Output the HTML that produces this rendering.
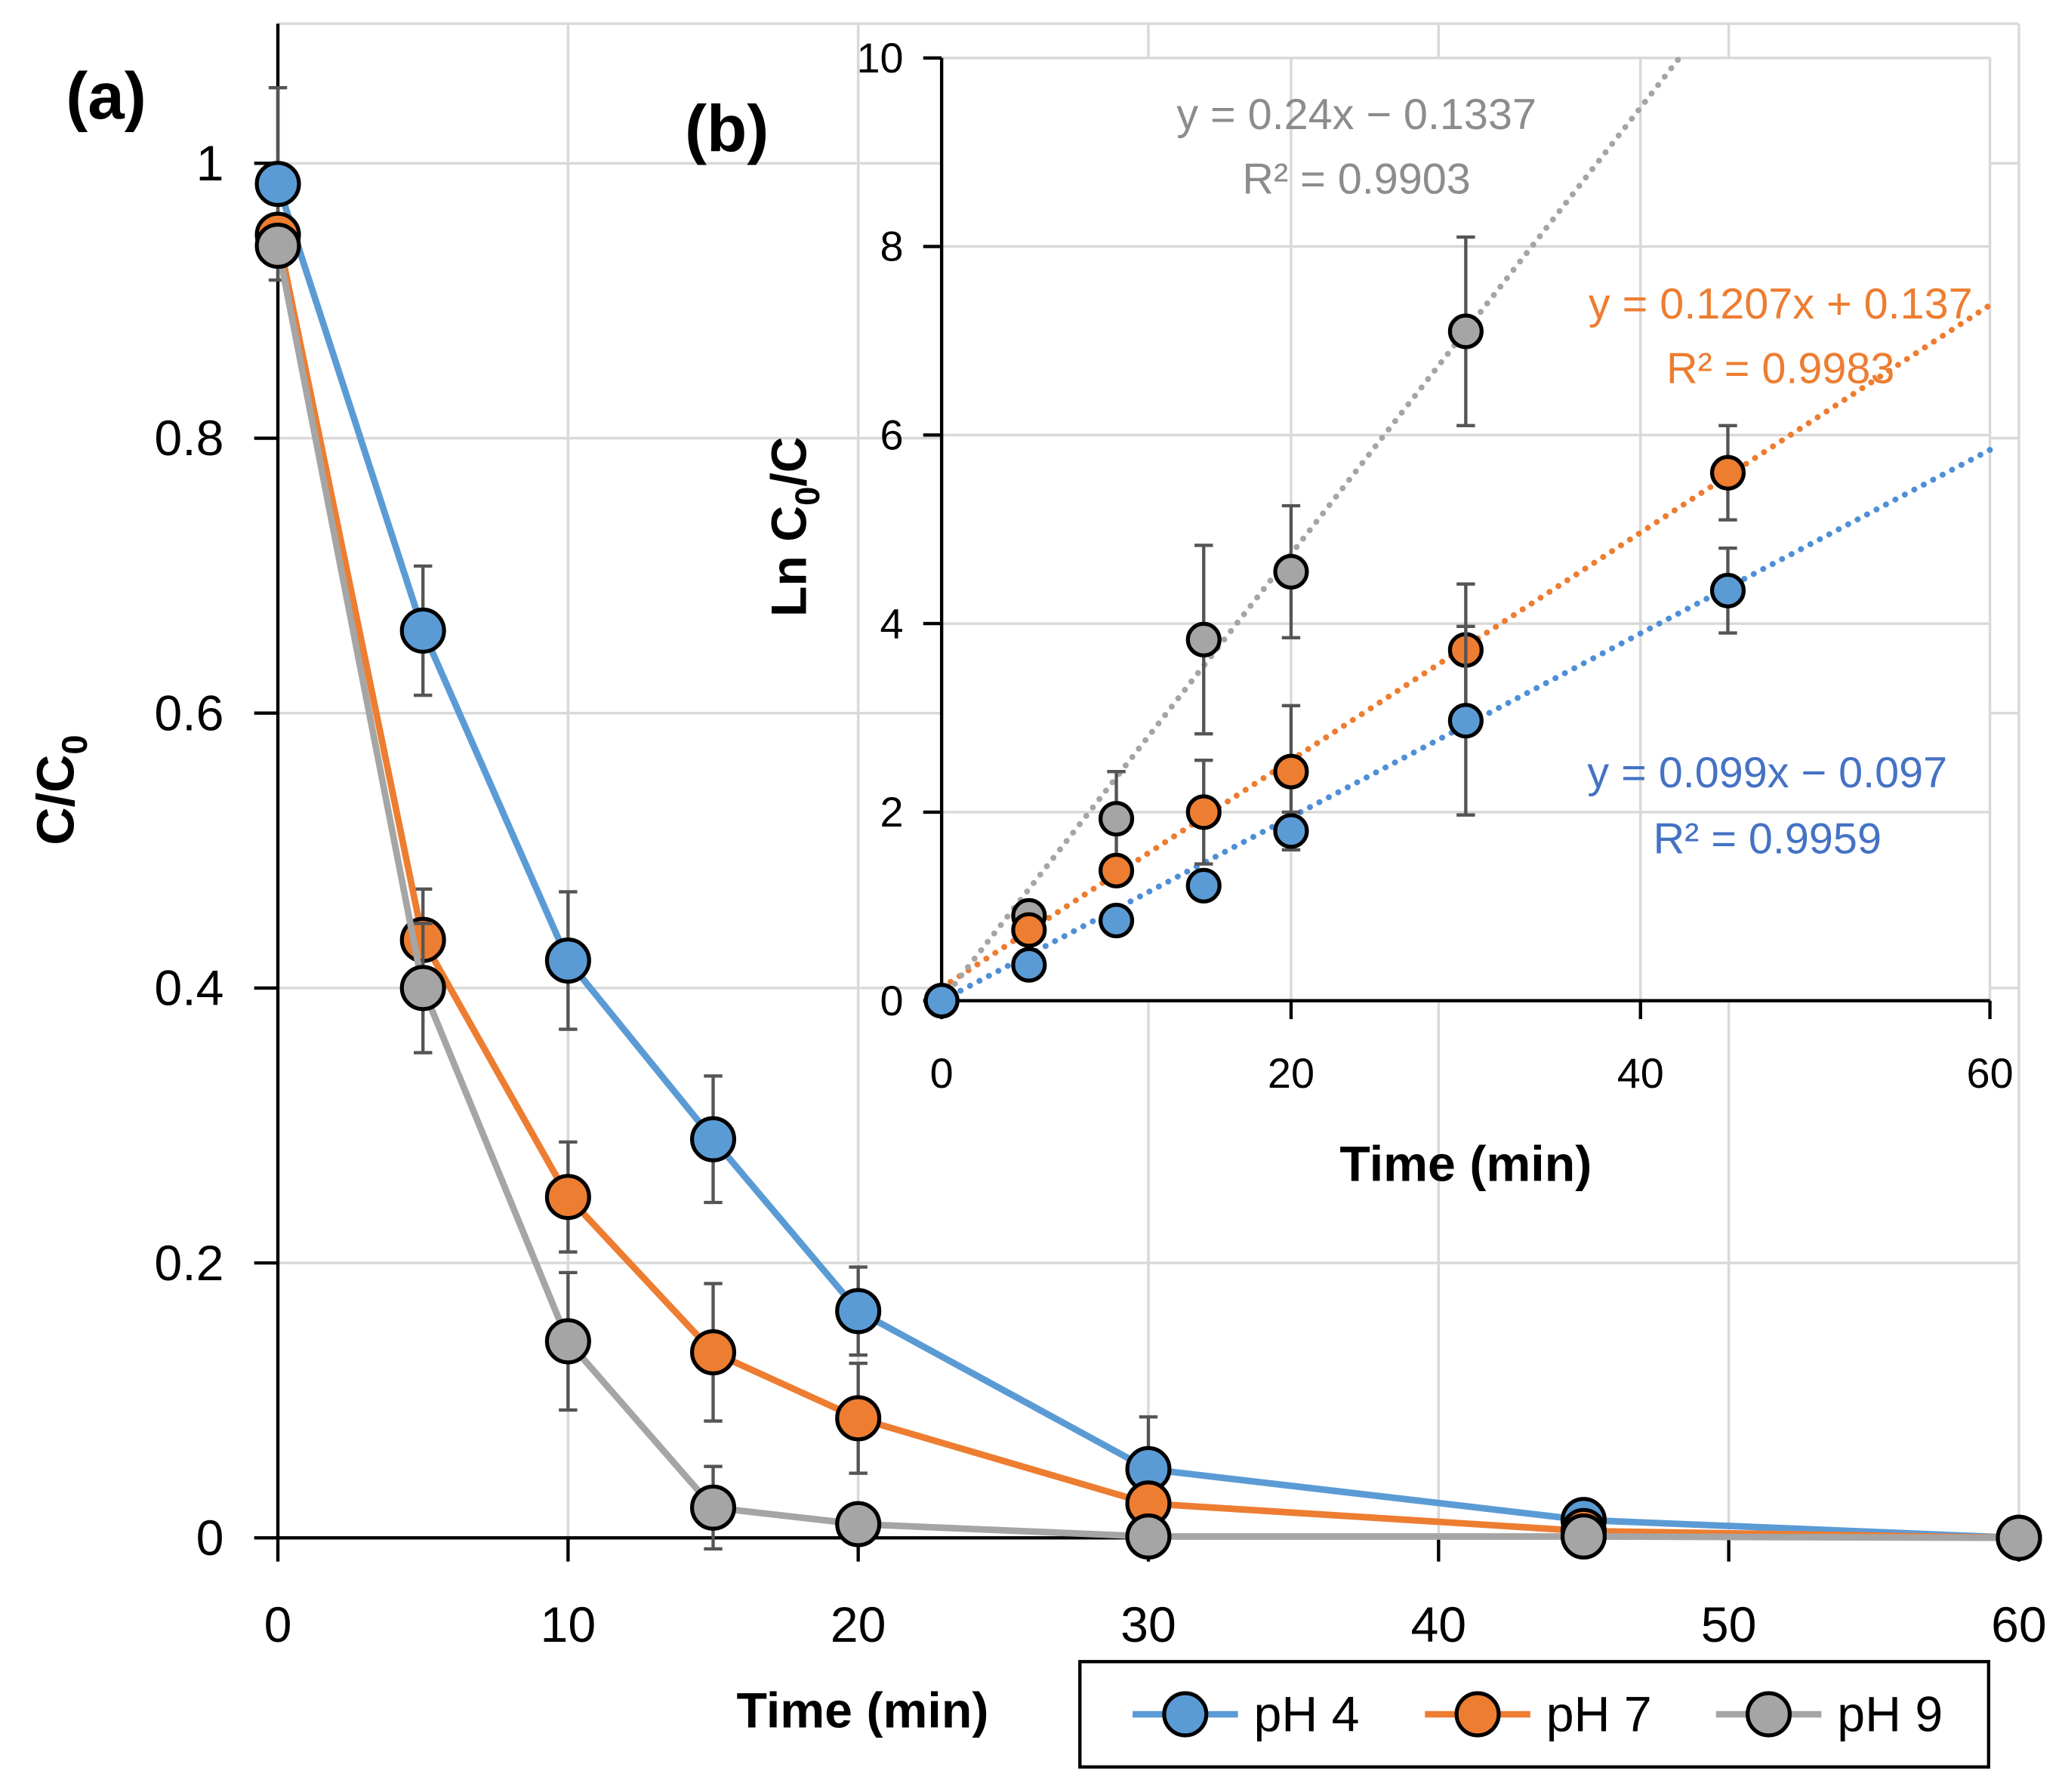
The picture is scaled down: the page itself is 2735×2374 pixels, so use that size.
<!DOCTYPE html>
<html><head><meta charset="utf-8"><style>
html,body{margin:0;padding:0;background:#fff}
svg{display:block;font-family:"Liberation Sans",sans-serif}
</style></head><body>
<svg id="chart" width="2735" height="2374" viewBox="0 0 1568 1361" xmlns="http://www.w3.org/2000/svg">
<g id="main"></g>
<g id="inset"></g>
</svg>
<script>
const times=[0,5,10,15,20,30,45,60];
const ph4=[0.985,0.66,0.42,0.29,0.165,0.05,0.013,0];
const ph7=[0.948,0.435,0.248,0.135,0.087,0.025,0.005,0];
const ph9=[0.94,0.4,0.143,0.022,0.01,0.001,0.001,0];
const err4=[0.07,0.047,0.05,0.046,0.032,0.038,0,0];
const err7=[0,0.037,0.04,0.05,0.04,0,0,0];
const err9=[0,0.047,0.05,0.03,0,0,0,0];
const xTicks=[0,10,20,30,40,50,60];
const yTicks=[0,0.2,0.4,0.6,0.8,1];
const inTimes=[0,5,10,15,20,30,45];
const in4=[0,0.38,0.85,1.22,1.8,2.97,4.35];
const in7=[0,0.75,1.38,2.0,2.43,3.72,5.6];
const in9=[0,0.9,1.93,3.83,4.55,7.1];
const inErr4=[0,0,0,0,0.2,1.0,0.45];
const inErr7=[0,0,0,0.55,0.7,0.7,0.5];
const inErr9=[0,0,0.5,1.0,0.7,1.0];
const fits=[{m:0.099,b:-0.097,c:'#4f8fd6'},{m:0.1207,b:0.137,c:'#ed7d31'},{m:0.24,b:-0.1337,c:'#a5a5a5'}];
const inXTicks=[0,20,40,60];
const inYTicks=[0,2,4,6,8,10];
const C4='#5b9bd5',C7='#ed7d31',C9='#a5a5a5';
const NS='http://www.w3.org/2000/svg';
function el(p,t,a,txt){const e=document.createElementNS(NS,t);for(const k in a)e.setAttribute(k,a[k]);if(txt!==undefined)e.textContent=txt;p.appendChild(e);return e;}
const M=document.getElementById('main');
const X=v=>211+v*(1533-211)/60, Y=v=>1168-v*1044;
for(const t of xTicks){if(t>0){const g=el(M,'line',{x1:X(t),x2:X(t),y1:18,y2:1168,stroke:'#d9d9d9','stroke-width':2});}}
for(const t of yTicks){if(t>0){const g=el(M,'line',{x1:211,x2:1533,y1:Y(t),y2:Y(t),stroke:'#d9d9d9','stroke-width':2});}}
el(M,'line',{x1:211,x2:1533,y1:18,y2:18,stroke:'#d9d9d9','stroke-width':2});
el(M,'line',{x1:211,x2:211,y1:18,y2:1168,stroke:'#000','stroke-width':2.5});
el(M,'line',{x1:211,x2:1533,y1:1168,y2:1168,stroke:'#000','stroke-width':2.5});
for(const t of xTicks){el(M,'line',{x1:X(t),x2:X(t),y1:1168,y2:1186,stroke:'#000','stroke-width':2.5});const l=el(M,'text',{x:X(t),y:1247,'font-size':38,'text-anchor':'middle'},String(t));}
for(const t of yTicks){el(M,'line',{x1:193,x2:211,y1:Y(t),y2:Y(t),stroke:'#000','stroke-width':2.5});const l=el(M,'text',{x:170,y:Y(t)+13,'font-size':38,'text-anchor':'end'},String(t));}
const xt=el(M,'text',{x:655,y:1312,'font-size':38,'font-weight':'bold','text-anchor':'middle'},'Time (min)');
const yt=el(M,'text',{transform:'translate(56,600) rotate(-90)','font-size':40,'font-weight':'bold','text-anchor':'middle'});yt.innerHTML='C/C<tspan font-size="27" dy="10">0</tspan>';
const pa=el(M,'text',{x:50,y:90,'font-size':50,'font-weight':'bold'},'(a)');
function series(P,xs,ys,errs,col,Xf,Yf,name,line,r){
 const g=el(P,'g',{});
 for(let i=0;i<ys.length;i++){if(errs[i]>0){const x=Xf(xs[i]),y1=Yf(ys[i]+errs[i]),y2=Yf(ys[i]-errs[i]);el(g,'path',{d:`M${x},${y1}V${y2}M${x-7},${y1}H${x+7}M${x-7},${y2}H${x+7}`,stroke:'#555','stroke-width':2.5,fill:'none'});}}
 if(line)el(g,'polyline',{points:ys.map((v,i)=>Xf(xs[i])+','+Yf(v)).join(' '),fill:'none',stroke:col,'stroke-width':5});
 for(let i=0;i<ys.length;i++){const c=el(g,'circle',{cx:Xf(xs[i]),cy:Yf(ys[i]),r:r,fill:col,stroke:'#000','stroke-width':3});}
}
series(M,times,ph4,err4,C4,X,Y,'series-ph4',true,16);
series(M,times,ph7,err7,C7,X,Y,'series-ph7',true,16);
series(M,times,ph9,err9,C9,X,Y,'series-ph9',true,16);
const L=el(M,'g',{});
el(L,'rect',{x:820,y:1262,width:690,height:80,fill:'#fff',stroke:'#000','stroke-width':2.5});
[['pH 4',C4,860],['pH 7',C7,1082],['pH 9',C9,1303]].forEach(([t,c,x])=>{const g=el(L,'g',{});el(g,'line',{x1:x,x2:x+80,y1:1302,y2:1302,stroke:c,'stroke-width':5});el(g,'circle',{cx:x+40,cy:1302,r:16,fill:c,stroke:'#000','stroke-width':3});el(g,'text',{x:x+92,y:1315,'font-size':38},t);});
const I=document.getElementById('inset');
const IX=v=>715+v*(1511-715)/60, IY=v=>760-v*71.6;
el(I,'rect',{x:715,y:44,width:796,height:716,fill:'#fff'});
for(const t of inXTicks){if(t>0){const g=el(I,'line',{x1:IX(t),x2:IX(t),y1:44,y2:760,stroke:'#d9d9d9','stroke-width':2});}}
for(const t of inYTicks){if(t>0){const g=el(I,'line',{x1:715,x2:1511,y1:IY(t),y2:IY(t),stroke:'#d9d9d9','stroke-width':2});}}
el(I,'line',{x1:715,x2:715,y1:44,y2:760,stroke:'#000','stroke-width':2.5});
el(I,'line',{x1:715,x2:1511,y1:760,y2:760,stroke:'#000','stroke-width':2.5});
for(const t of inXTicks){el(I,'line',{x1:IX(t),x2:IX(t),y1:760,y2:774,stroke:'#000','stroke-width':2.5});const l=el(I,'text',{x:IX(t),y:826,'font-size':32,'text-anchor':'middle'},String(t));}
for(const t of inYTicks){el(I,'line',{x1:701,x2:715,y1:IY(t),y2:IY(t),stroke:'#000','stroke-width':2.5});const l=el(I,'text',{x:686,y:IY(t)+11,'font-size':32,'text-anchor':'end'},String(t));}
const ixt=el(I,'text',{x:1113,y:897,'font-size':38,'font-weight':'bold','text-anchor':'middle'},'Time (min)');
const iyt=el(I,'text',{transform:'translate(612,400) rotate(-90)','font-size':38,'font-weight':'bold','text-anchor':'middle'});iyt.innerHTML='Ln C<tspan font-size="26" dy="10">0</tspan><tspan dy="-10">/C</tspan>';
const pb=el(I,'text',{x:520,y:115,'font-size':50,'font-weight':'bold'},'(b)');
fits.forEach(f=>{let x2=60,y2=f.m*60+f.b;if(y2>10){y2=10;x2=(10-f.b)/f.m;}const l=el(I,'line',{x1:IX(0),y1:IY(Math.max(0,f.b)),x2:IX(x2),y2:IY(y2),stroke:f.c,'stroke-width':4.5,'stroke-dasharray':'0.1 8','stroke-linecap':'round'});});
series(I,inTimes,in9,inErr9,C9,IX,IY,'inset-series-ph9',false,12);
series(I,inTimes,in7,inErr7,C7,IX,IY,'inset-series-ph7',false,12);
series(I,inTimes,in4,inErr4,C4,IX,IY,'inset-series-ph4',false,12);
[['y = 0.24x − 0.1337',1030,98,'#8c8c8c'],['R² = 0.9903',1030,147,'#8c8c8c'],['y = 0.1207x + 0.137',1352,242,'#ed7d31'],['R² = 0.9983',1352,291,'#ed7d31'],['y = 0.099x − 0.097',1342,598,'#4472c4'],['R² = 0.9959',1342,648,'#4472c4']].forEach(([t,x,y,c])=>{const e=el(I,'text',{x:x,y:y,'font-size':33,'text-anchor':'middle',fill:c},t);});
</script>
</body></html>
